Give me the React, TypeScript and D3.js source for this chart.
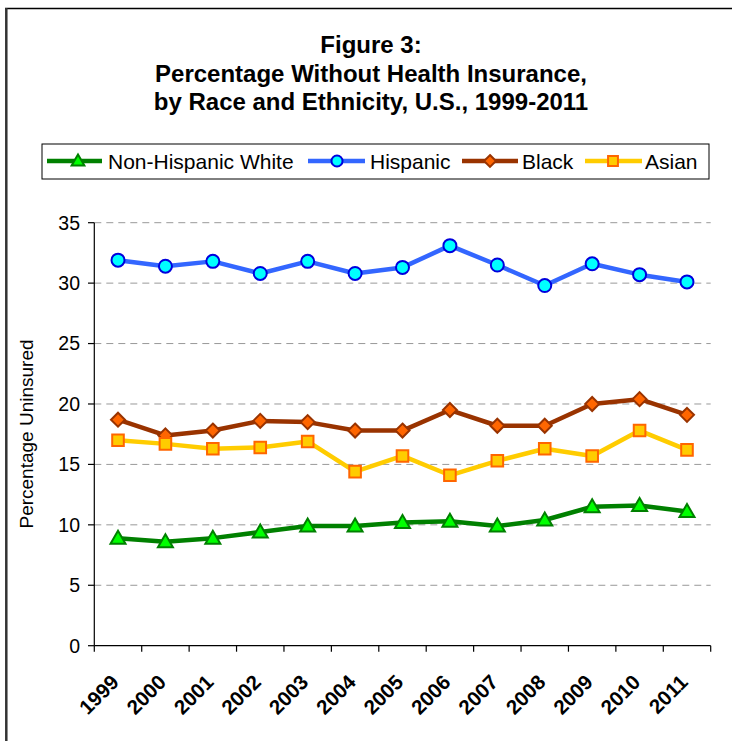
import React from "react";
import * as d3 from "d3";

const years = ["1999","2000","2001","2002","2003","2004","2005","2006","2007","2008","2009","2010","2011"];
const whiteVals = [8.9, 8.6, 8.9, 9.4, 9.9, 9.9, 10.2, 10.3, 9.9, 10.4, 11.5, 11.6, 11.1];
const hispanicVals = [31.9, 31.4, 31.8, 30.8, 31.8, 30.8, 31.3, 33.1, 31.5, 29.8, 31.6, 30.7, 30.1];
const blackVals = [18.7, 17.4, 17.8, 18.6, 18.5, 17.8, 17.8, 19.5, 18.2, 18.2, 20.0, 20.4, 19.1];
const asianVals = [17.0, 16.7, 16.3, 16.4, 16.9, 14.4, 15.7, 14.1, 15.3, 16.3, 15.7, 17.8, 16.2];
const yTicks = [0, 5, 10, 15, 20, 25, 30, 35];
const titleLines = ["Figure 3:", "Percentage Without Health Insurance,", "by Race and Ethnicity, U.S., 1999-2011"];
const seriesNames = ["Non-Hispanic White", "Hispanic", "Black", "Asian"];

type Series = { name: string; values: number[]; line: string; fill: string; stroke: string; shape: string };

const series: Series[] = [
  { name: seriesNames[0], values: whiteVals, line: "#008000", fill: "#00FF00", stroke: "#008000", shape: "triangle" },
  { name: seriesNames[1], values: hispanicVals, line: "#3366FF", fill: "#00FFFF", stroke: "#0000DD", shape: "circle" },
  { name: seriesNames[2], values: blackVals, line: "#993300", fill: "#FF6600", stroke: "#993300", shape: "diamond" },
  { name: seriesNames[3], values: asianVals, line: "#FFCC00", fill: "#FFCC00", stroke: "#FF6600", shape: "square" },
];

function markerPath(shape: string, scale = 1): string {
  switch (shape) {
    case "triangle": {
      const w = 7.5 * scale, h = 13 * scale;
      return `M0,${-h / 2 - 1}L${w},${h / 2 - 1}L${-w},${h / 2 - 1}Z`;
    }
    case "circle":
      return d3.symbol().type(d3.symbolCircle).size(Math.PI * 6.5 * 6.5 * scale * scale)() as string;
    case "diamond": {
      const r = 7 * scale;
      return `M0,${-r}L${r},0L0,${r}L${-r},0Z`;
    }
    default: {
      const s = 5.8 * scale;
      return `M${-s},${-s}L${s},${-s}L${s},${s}L${-s},${s}Z`;
    }
  }
}

export default function App() {
  const W = 732, H = 741;
  const x = d3.scaleBand<string>().domain(years).range([94.3, 710.7]);
  const y = d3.scaleLinear().domain([0, 35]).range([645.7, 222.7]);
  const cx = (i: number) => (x(years[i]) as number) + x.bandwidth() / 2;
  const line = d3.line<number>().x((_, i) => cx(i)).y((v) => y(v));
  const boundaries = years.map((yr) => x(yr) as number).concat([x.range()[1]]);

  const legendItems = [
    { lineX1: 47, lineX2: 102, mark: 78, textX: 108 },
    { lineX1: 308, lineX2: 365, mark: 337, textX: 370 },
    { lineX1: 462, lineX2: 518, mark: 490, textX: 522 },
    { lineX1: 585, lineX2: 642, mark: 613, textX: 645 },
  ];
  const legY = 161;

  return (
    <svg width={W} height={H} style={{ position: "absolute", left: 0, top: 0, background: "#fff" }} fontFamily="Arial, 'Liberation Sans', sans-serif">
      <rect x={0} y={0} width={W} height={H} fill="#fff" />
      {/* frame */}
      <line x1={5} x2={W} y1={8.5} y2={8.5} stroke="#000" strokeWidth={1.5} />
      <line x1={6.3} x2={6.3} y1={8} y2={H} stroke="#333" strokeWidth={2.5} />

      {/* title */}
      {titleLines.map((t, i) => (
        <text key={i} x={371} y={53 + i * 28.5} textAnchor="middle" fontWeight="bold" fontSize={24} fill="#000">{t}</text>
      ))}

      {/* legend */}
      <rect x={42} y={144} width={667} height={35} fill="#fff" stroke="#000" strokeWidth={1} />
      {series.map((s, i) => {
        const li = legendItems[i];
        return (
          <g key={s.name}>
            <line x1={li.lineX1} x2={li.lineX2} y1={legY} y2={legY} stroke={s.line} strokeWidth={4.5} />
            <path d={markerPath(s.shape, 0.85)} transform={`translate(${li.mark},${legY})`} fill={s.fill} stroke={s.stroke} strokeWidth={2} />
            <text x={li.textX} y={legY + 7.5} fontSize={21} fill="#000">{s.name}</text>
          </g>
        );
      })}

      {/* grid */}
      {yTicks.filter((t) => t > 0).map((t) => (
        <line key={t} x1={94.3} x2={710.7} y1={y(t)} y2={y(t)} stroke="#999" strokeWidth={1} strokeDasharray="7,5" />
      ))}

      {/* axes */}
      <line x1={94.3} x2={94.3} y1={y(35)} y2={y(0)} stroke="#000" strokeWidth={1.2} />
      <line x1={94.3} x2={710.7} y1={y(0)} y2={y(0)} stroke="#000" strokeWidth={1.2} />
      {yTicks.map((t) => (
        <g key={t}>
          <line x1={88} x2={94.3} y1={y(t)} y2={y(t)} stroke="#000" strokeWidth={1.2} />
          <text x={80} y={y(t) + 6.8} textAnchor="end" fontSize={19.5} fill="#000">{t}</text>
        </g>
      ))}
      {boundaries.map((b, i) => (
        <line key={i} x1={b} x2={b} y1={y(0)} y2={y(0) + 6} stroke="#000" strokeWidth={1.2} />
      ))}
      {years.map((yr, i) => (
        <text key={yr} transform={`translate(${cx(i) + 2},${683.5}) rotate(-45)`} textAnchor="end" fontWeight="bold" fontSize={20.5} fill="#000">{yr}</text>
      ))}
      <text transform={`translate(33,434) rotate(-90)`} textAnchor="middle" fontSize={19} fill="#000">Percentage Uninsured</text>

      {/* series */}
      {series.map((s) => (
        <g key={s.name}>
          <path d={line(s.values) as string} fill="none" stroke={s.line} strokeWidth={4.5} strokeLinejoin="round" />
          {s.values.map((v, i) => (
            <path key={i} d={markerPath(s.shape)} transform={`translate(${cx(i)},${y(v)})`} fill={s.fill} stroke={s.stroke} strokeWidth={2} />
          ))}
        </g>
      ))}
    </svg>
  );
}
